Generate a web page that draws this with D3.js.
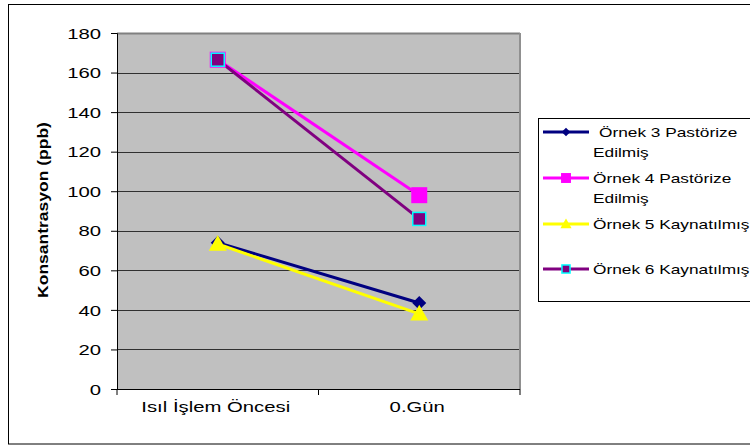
<!DOCTYPE html>
<html>
<head>
<meta charset="utf-8">
<script src="https://cdn.jsdelivr.net/npm/d3@7"></script>
<style>
  html, body { margin: 0; padding: 0; background: #fff; }
  svg { display: block; font-family: "Liberation Sans", Arial, sans-serif; }
</style>
</head>
<body>
<svg id="chart" width="750" height="446"></svg>
<script>
// Categories along the x axis
const categories = ["Isıl İşlem Öncesi", "0.Gün"];

// Series names (legend lines) and values in ppb
const seriesNames = [
  ["Örnek 3 Pastörize", "Edilmiş"],
  ["Örnek 4 Pastörize", "Edilmiş"],
  ["Örnek 5 Kaynatılmış"],
  ["Örnek 6 Kaynatılmış"]
];
const ornek3 = [74, 43.5];
const ornek4 = [166.5, 98];
const ornek5 = [73.3, 38];
const ornek6 = [166.5, 86];

const yTicks = [0, 20, 40, 60, 80, 100, 120, 140, 160, 180];

// The chart's lettering is set wide: glyphs are stretched horizontally
const STRETCH = 1.42;

const svg = d3.select("#chart");

// Outer chart frame
svg.append("rect")
  .attr("x", 8.5).attr("y", 4.5).attr("width", 750).attr("height", 439.5)
  .attr("fill", "#fff").attr("stroke", "#000").attr("stroke-width", 1);

const plot = { left: 117, right: 520, top: 33, bottom: 389 };

const x = d3.scaleBand().domain(categories).range([plot.left, plot.right]);
const y = d3.scaleLinear().domain([0, 180]).range([plot.bottom, plot.top]);

// Plot area background
svg.append("rect")
  .attr("x", plot.left).attr("y", plot.top)
  .attr("width", plot.right - plot.left).attr("height", plot.bottom - plot.top)
  .attr("fill", "#c0c0c0");

// Horizontal gridlines
svg.append("g").selectAll("line")
  .data(yTicks.filter(d => d > 0))
  .join("line")
  .attr("x1", plot.left).attr("x2", plot.right)
  .attr("y1", d => Math.round(y(d)) + 0.5).attr("y2", d => Math.round(y(d)) + 0.5)
  .attr("stroke", d => d === 180 ? "#808080" : "#303030")
  .attr("stroke-width", d => d === 180 ? 2 : 1.2);

// Right border of plot area
svg.append("line")
  .attr("x1", plot.right).attr("x2", plot.right)
  .attr("y1", plot.top).attr("y2", plot.bottom)
  .attr("stroke", "#909090").attr("stroke-width", 2);

// Y axis
const yAxis = d3.axisLeft(y).tickValues(yTicks).tickSize(6).tickPadding(10);
const gy = svg.append("g").attr("transform", `translate(${plot.left},0)`).call(yAxis);
gy.select(".domain").attr("stroke", "#000");
gy.selectAll(".tick line").attr("stroke", "#000");
gy.selectAll(".tick text")
  .attr("x", 0)
  .attr("dy", "0.36em")
  .attr("transform", `translate(-16,0) scale(${STRETCH},1)`)
  .attr("font-size", 14.3).attr("fill", "#000")
  .attr("font-family", "Liberation Sans, Arial, sans-serif");

// X axis: ticks at category boundaries
const gx = svg.append("g").attr("transform", `translate(0,${plot.bottom})`);
gx.append("line").attr("x1", plot.left).attr("x2", plot.right)
  .attr("y1", 0.5).attr("y2", 0.5).attr("stroke", "#000");
const bounds = [plot.left, plot.left + x.bandwidth(), plot.right];
gx.selectAll("line.tk").data(bounds).join("line").attr("class", "tk")
  .attr("x1", d => d).attr("x2", d => d).attr("y1", 0).attr("y2", 6)
  .attr("stroke", "#000");
gx.selectAll("text").data(categories).join("text")
  .attr("transform", d => `translate(${x(d) + x.bandwidth() / 2 - 2},23) scale(${STRETCH},1)`)
  .attr("text-anchor", "middle")
  .attr("font-size", 14.3)
  .attr("fill", "#000")
  .text(d => d);

// Y axis title
svg.append("text")
  .attr("transform", `translate(48,210) rotate(-90) scale(1.25,1)`)
  .attr("text-anchor", "middle")
  .attr("font-size", 14)
  .attr("font-weight", "bold")
  .attr("fill", "#000")
  .text("Konsantrasyon (ppb)");

// Series definitions
const series = [
  { values: ornek3, color: "#000080", marker: "diamond" },
  { values: ornek4, color: "#ff00ff", marker: "square" },
  { values: ornek5, color: "#ffff00", marker: "triangle" },
  { values: ornek6, color: "#800080", marker: "squareOutlined" }
];

const line = d3.line()
  .x((d, i) => x(categories[i]) + x.bandwidth() / 2)
  .y(d => y(d));

function drawMarker(g, type, cx, cy, color, scale) {
  const s = scale || 1;
  if (type === "diamond") {
    const r = 7 * s;
    g.append("path")
      .attr("d", `M${cx},${cy - r}L${cx + r},${cy}L${cx},${cy + r}L${cx - r},${cy}Z`)
      .attr("fill", color);
  } else if (type === "square") {
    const h = 8 * s;
    g.append("rect").attr("x", cx - h).attr("y", cy - h)
      .attr("width", 2 * h).attr("height", 2 * h).attr("fill", color);
  } else if (type === "triangle") {
    const h = 9 * s;
    g.append("path")
      .attr("d", `M${cx},${cy - h}L${cx + h},${cy + h * 0.75}L${cx - h},${cy + h * 0.75}Z`)
      .attr("fill", color);
  } else if (type === "squareOutlined") {
    const h = 6.5 * s;
    g.append("rect").attr("x", cx - h).attr("y", cy - h)
      .attr("width", 2 * h).attr("height", 2 * h)
      .attr("fill", color).attr("stroke", "#00ffff").attr("stroke-width", 1.5);
  }
}

const gs = svg.append("g");
series.forEach(s => {
  gs.append("path")
    .datum(s.values)
    .attr("d", line)
    .attr("fill", "none")
    .attr("stroke", s.color)
    .attr("stroke-width", 3);
});
series.forEach(s => {
  s.values.forEach((v, i) => {
    drawMarker(gs, s.marker, x(categories[i]) + x.bandwidth() / 2, y(v), s.color);
  });
});

// Legend
const legend = svg.append("g");
legend.append("rect")
  .attr("x", 538.5).attr("y", 118.5).attr("width", 230).attr("height", 183)
  .attr("fill", "#fff").attr("stroke", "#000").attr("stroke-width", 1);

const rowY = [132, 178, 224, 269];
const textX = [599, 593, 593, 593];
const LEGEND_STRETCH = 1.28;
series.forEach((s, i) => {
  const yy = rowY[i];
  legend.append("line")
    .attr("x1", 543).attr("x2", 589).attr("y1", yy).attr("y2", yy)
    .attr("stroke", s.color).attr("stroke-width", 3);
  drawMarker(legend, s.marker, 566, yy, s.color, 0.62);
  seriesNames[i].forEach((ln, j) => {
    const tx = j === 0 ? textX[i] : 593;
    legend.append("text")
      .attr("transform", `translate(${tx},${yy + 5 + j * 19.5}) scale(${LEGEND_STRETCH},1)`)
      .attr("font-size", 13.5).attr("fill", "#000")
      .text(ln);
  });
});
</script>
</body>
</html>
